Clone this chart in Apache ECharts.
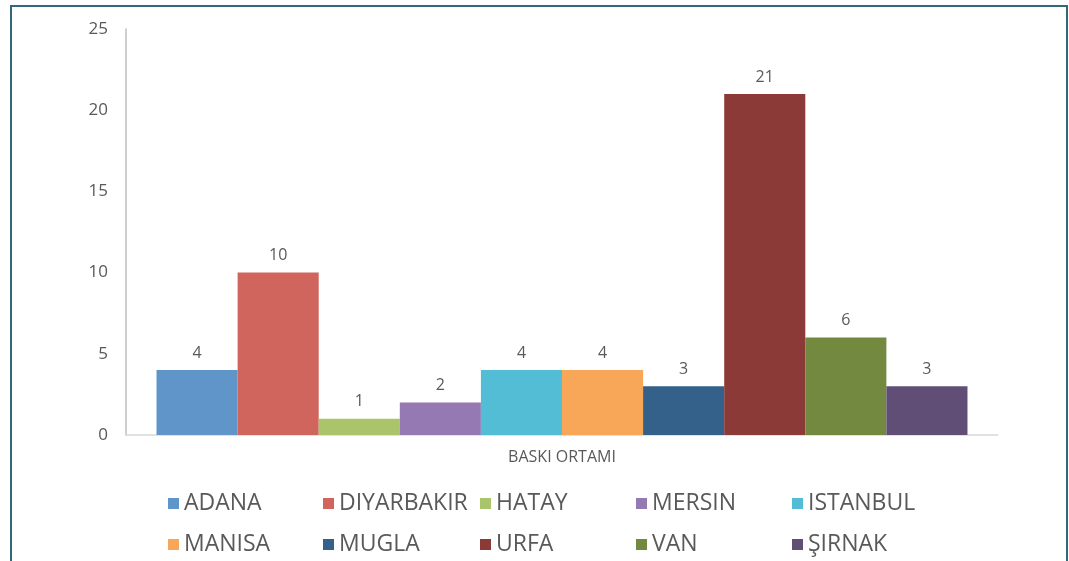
<!DOCTYPE html>
<html>
<head>
<meta charset="utf-8">
<script src="https://cdn.jsdelivr.net/npm/echarts@6/dist/echarts.min.js"></script>
<style>
  html, body { margin: 0; padding: 0; background: #ffffff; }
  .frame {
    position: absolute;
    left: 10px;
    top: 5px;
    width: 1054px;
    height: 600px;
    border: 2px solid #33677a;
  }
  #main {
    position: absolute;
    left: 0;
    top: 0;
    width: 1069px;
    height: 561px;
  }
</style>
</head>
<body>
<div class="frame"></div>
<div id="main"></div>
<script>
var categories = ["BASKI ORTAMI"];
var names = ["ADANA", "DIYARBAKIR", "HATAY", "MERSIN", "ISTANBUL", "MANISA", "MUGLA", "URFA", "VAN", "ŞIRNAK"];
var values = [4, 10, 1, 2, 4, 4, 3, 21, 6, 3];
var colors = ["#5f95c9", "#cf655d", "#a9c46b", "#9479b3", "#53bdd6", "#f8a657", "#336189", "#8b3a38", "#72893f", "#604e77"];
var yTicks = [0, 5, 10, 15, 20, 25];

var chart = echarts.init(document.getElementById("main"));

var series = [];
for (var i = 0; i < names.length; i++) {
  series.push({
    name: names[i],
    type: "bar",
    data: [values[i]],
    barGap: "0%",
    barCategoryGap: "7%",
    itemStyle: { color: colors[i] },
    label: {
      show: true,
      position: "top",
      distance: 9,
      color: "#595959",
      fontSize: 16,
      fontFamily: "Open Sans"
    }
  });
}

// legend: 2 rows x 5 columns
var legendX = [168, 323, 480, 636, 792];
var legendY = [492, 533];
var legends = [];
for (var j = 0; j < names.length; j++) {
  legends.push({
    data: [names[j]],
    left: legendX[j % 5],
    top: legendY[Math.floor(j / 5)],
    padding: 0,
    itemWidth: 11,
    itemHeight: 11,
    icon: "rect",
    selectedMode: false,
    textStyle: { color: "#595959", fontSize: 23, fontFamily: "Open Sans" }
  });
}

var option = {
  animation: false,
  grid: { left: 126, right: 71, top: 29, bottom: 126 },
  legend: legends,
  xAxis: {
    type: "category",
    data: categories,
    axisLine: { lineStyle: { color: "#d9d9d9", width: 1.5 } },
    axisTick: { show: false },
    axisLabel: { color: "#595959", fontSize: 16, fontFamily: "Open Sans", margin: 14 }
  },
  yAxis: {
    type: "value",
    min: yTicks[0],
    max: yTicks[yTicks.length - 1],
    interval: 5,
    axisLine: { show: true, lineStyle: { color: "#bfbfbf", width: 1.5 } },
    axisTick: { show: false },
    splitLine: { show: false },
    axisLabel: { color: "#595959", fontSize: 17, fontFamily: "Open Sans", margin: 18 }
  },
  series: series
};

chart.setOption(option);
</script>
</body>
</html>
